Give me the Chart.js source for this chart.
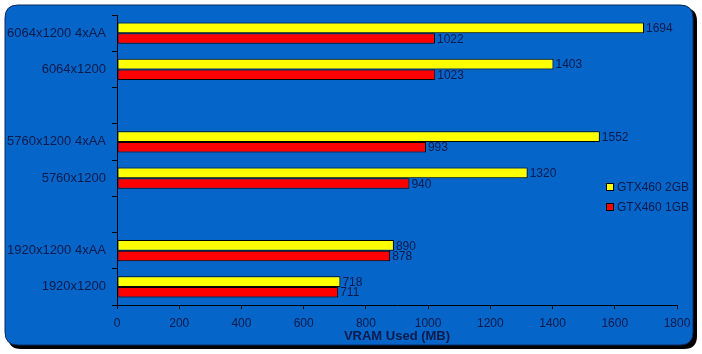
<!DOCTYPE html>
<html>
<head>
<meta charset="utf-8">
<script src="https://cdn.jsdelivr.net/npm/chart.js@4/dist/chart.umd.min.js"></script>
<style>
  html, body { margin: 0; padding: 0; background: #ffffff; }
  #wrap { width: 702px; height: 354px; position: relative; }
</style>
</head>
<body>
<div id="wrap"><canvas id="grafica"></canvas></div>
<script>
// ========== DATOS ==========
const categorias = [
  '6064x1200 4xAA', '6064x1200', '',
  '5760x1200 4xAA', '5760x1200', '',
  '1920x1200 4xAA', '1920x1200'
];
const gtx2gb = [1694, 1403, null, 1552, 1320, null, 890, 718];
const gtx1gb = [1022, 1023, null, 993, 940, null, 878, 711];
const nombresSeries = ['GTX460 2GB', 'GTX460 1GB'];
const ticksX = [0, 200, 400, 600, 800, 1000, 1200, 1400, 1600, 1800];

const AZUL = '#0565C9';
const TEXTO = '#0e1a4a';
const FUENTE = 'Liberation Sans, Arial, sans-serif';

// ========== FONDO REDONDEADO ==========
function rectRedondo(ctx, x, y, w, h, r) {
  ctx.beginPath();
  ctx.moveTo(x + r, y);
  ctx.lineTo(x + w - r, y);
  ctx.quadraticCurveTo(x + w, y, x + w, y + r);
  ctx.lineTo(x + w, y + h - r);
  ctx.quadraticCurveTo(x + w, y + h, x + w - r, y + h);
  ctx.lineTo(x + r, y + h);
  ctx.quadraticCurveTo(x, y + h, x, y + h - r);
  ctx.lineTo(x, y + r);
  ctx.quadraticCurveTo(x, y, x + r, y);
  ctx.closePath();
}

const fondo = {
  id: 'fondo',
  beforeDraw(chart) {
    const ctx = chart.ctx;
    ctx.save();
    ctx.fillStyle = '#ffffff';
    ctx.fillRect(0, 0, chart.width, chart.height);
    // sombra
    ctx.fillStyle = '#000000';
    rectRedondo(ctx, 8, 8, 689, 341, 13);
    ctx.fill();
    // panel azul
    ctx.fillStyle = AZUL;
    rectRedondo(ctx, 5, 5, 688, 340, 13);
    ctx.fill();
    ctx.strokeStyle = '#0a2a60';
    ctx.lineWidth = 1;
    ctx.stroke();
    ctx.restore();
  }
};

// ========== ETIQUETAS DE VALORES ==========
const etiquetas = {
  id: 'etiquetas',
  afterDatasetsDraw(chart) {
    const ctx = chart.ctx;
    ctx.save();
    ctx.font = '12px ' + FUENTE;
    ctx.fillStyle = TEXTO;
    ctx.textAlign = 'left';
    ctx.textBaseline = 'middle';
    chart.data.datasets.forEach((ds, i) => {
      const meta = chart.getDatasetMeta(i);
      meta.data.forEach((bar, j) => {
        if (ds.data[j] == null) return;
        ctx.fillText(String(ds.data[j]), bar.x + 2, bar.y + 1);
      });
    });
    ctx.restore();
  }
};

// ========== LEYENDA ==========
const leyenda = {
  id: 'leyenda',
  afterDraw(chart) {
    const ctx = chart.ctx;
    ctx.save();
    ctx.font = '12px ' + FUENTE;
    ctx.textBaseline = 'middle';
    chart.data.datasets.forEach((ds, i) => {
      const y = 187 + i * 20;
      ctx.fillStyle = ds.backgroundColor;
      ctx.fillRect(606.5, y - 3.5, 7, 7);
      ctx.strokeStyle = '#000000';
      ctx.lineWidth = 1;
      ctx.strokeRect(606.5, y - 3.5, 7, 7);
      ctx.fillStyle = TEXTO;
      ctx.fillText(ds.label, 617, y + 1);
    });
    ctx.restore();
  }
};

// ========== GRÁFICA ==========
new Chart(document.getElementById('grafica'), {
  type: 'bar',
  data: {
    labels: categorias,
    datasets: [
      {
        label: nombresSeries[0],
        data: gtx2gb,
        backgroundColor: '#ffff00',
        borderColor: '#000000',
        borderWidth: 1,
        borderSkipped: false
      },
      {
        label: nombresSeries[1],
        data: gtx1gb,
        backgroundColor: '#ff0000',
        borderColor: '#000000',
        borderWidth: 1,
        borderSkipped: false
      }
    ]
  },
  options: {
    indexAxis: 'y',
    responsive: true,
    maintainAspectRatio: false,
    animation: false,
    categoryPercentage: 0.58,
    barPercentage: 1.0,
    layout: { padding: { left: 0, right: 25, top: 15, bottom: 0 } },
    plugins: {
      legend: { display: false },
      tooltip: { enabled: false }
    },
    scales: {
      x: {
        min: 0,
        max: 1800,
        afterBuildTicks(scale) {
          scale.ticks = ticksX.map(v => ({ value: v }));
        },
        afterFit(scale) { scale.height = 49; },
        border: { color: '#000000', width: 1 },
        grid: { drawOnChartArea: false, drawTicks: true, tickLength: 4, color: '#000000' },
        ticks: {
          color: TEXTO,
          font: { family: FUENTE, size: 12 },
          padding: 7,
          maxRotation: 0,
          callback: v => String(v)
        },
        title: {
          display: true,
          text: 'VRAM Used (MB)',
          color: TEXTO,
          font: { family: FUENTE, size: 13, weight: 'bold' },
          padding: { top: 0, bottom: 10 }
        }
      },
      y: {
        afterFit(scale) { scale.width = 117; },
        border: { color: '#000000', width: 1 },
        grid: { offset: true, drawOnChartArea: false, drawTicks: true, tickLength: 5, color: '#000000' },
        ticks: { color: TEXTO, font: { family: FUENTE, size: 13 }, padding: 6, autoSkip: false }
      }
    }
  },
  plugins: [fondo, etiquetas, leyenda]
});
</script>
</body>
</html>
